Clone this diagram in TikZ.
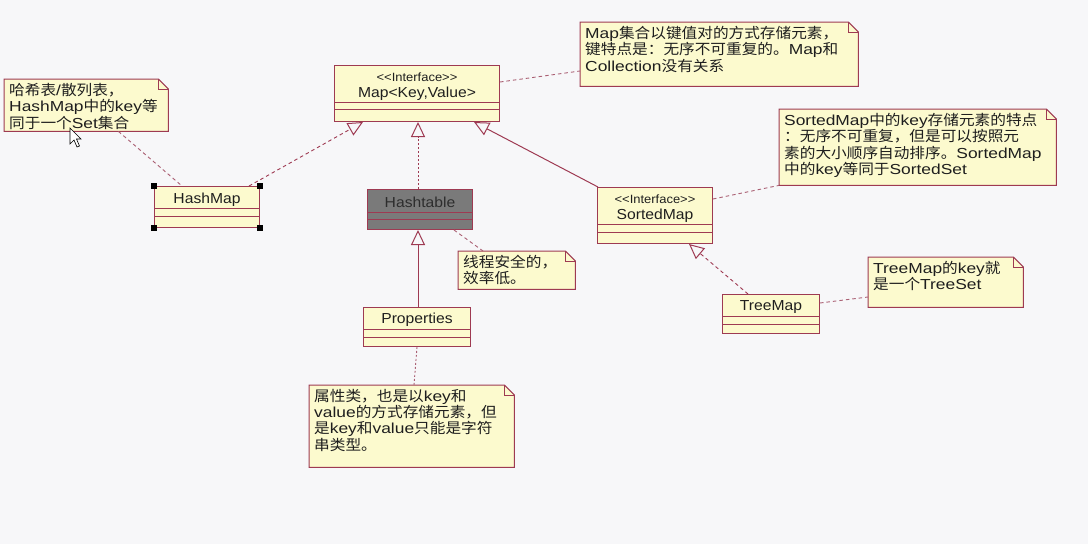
\documentclass[tikz,border=0pt]{standalone}
\usepackage{fontspec}
\setmainfont{Liberation Sans}[FakeStretch=1.2]
\newfontfamily\clsfont{Liberation Sans}[FakeStretch=1.08]
\newfontfamily\cjk{Noto Sans CJK SC}[FakeStretch=1.08]
\usetikzlibrary{arrows.meta,calc}
\XeTeXinterchartokenstate=1
\newXeTeXintercharclass\CJKcls
\newcount\cjkc
\cjkc="4E00 \loop\XeTeXcharclass\cjkc=\CJKcls \ifnum\cjkc<"9FFF \advance\cjkc by 1 \repeat
\cjkc="3000 \loop\XeTeXcharclass\cjkc=\CJKcls \ifnum\cjkc<"303F \advance\cjkc by 1 \repeat
\cjkc="FF00 \loop\XeTeXcharclass\cjkc=\CJKcls \ifnum\cjkc<"FFEF \advance\cjkc by 1 \repeat
\XeTeXinterchartoks 0 \CJKcls = {\begingroup\cjk}
\XeTeXinterchartoks 4095 \CJKcls = {\begingroup\cjk}
\XeTeXinterchartoks \CJKcls 0 = {\endgroup}
\XeTeXinterchartoks \CJKcls 4095 = {\endgroup}
\definecolor{umlred}{RGB}{158,58,82}
\definecolor{dashc}{RGB}{170,95,115}
\definecolor{umlfill}{RGB}{252,250,206}
\definecolor{bgc}{RGB}{247,247,249}
\definecolor{htfill}{RGB}{122,122,122}
\definecolor{txt}{RGB}{30,30,30}
\pgfdeclarelayer{back}
\pgfdeclarelayer{bg}
\pgfsetlayers{back,bg,main}
\tikzset{
  cls/.style={draw=umlred, fill=umlfill, line width=1pt, inner sep=0pt, anchor=north west},
  clsline/.style={draw=umlred, line width=1pt},
  clsname/.style={font=\clsfont\fontsize{14.5}{16}\selectfont, text=txt, inner sep=0pt},
  stereo/.style={font=\clsfont\fontsize{12}{13}\selectfont, text=txt, inner sep=0pt},
  note/.style={inner xsep=5pt, inner ysep=4pt, anchor=north west, font=\fontsize{14.5}{16.3}\selectfont, text=txt},
  notebd/.style={draw=umlred, fill=umlfill, line width=1pt},
  anchorline/.style={draw=dashc, line width=0.9pt, dash pattern=on 3.5pt off 3pt},
  tri/.tip={Triangle[open, length=15pt, width=14pt, line width=1pt, fill=bgc]},
  realize/.style={draw=umlred, line width=0.9pt, dash pattern=on 3.5pt off 3pt, -tri},
  general/.style={draw=umlred, line width=1pt, -tri},
}
\newcommand\notebox[6]{%
  \node[note] (#1) at (#2,#3) {\parbox[t][\dimexpr#5pt-8pt\relax][t]{\dimexpr#4pt-10pt\relax}{#6}};
  \begin{pgfonlayer}{bg}
    \filldraw[notebd] (#1.north west) -- ([xshift=-10pt]#1.north east) -- ([yshift=-10pt]#1.north east) -- (#1.south east) -- (#1.south west) -- cycle;
    \draw[notebd, fill=none] ([xshift=-10pt]#1.north east) |- ([yshift=-10pt]#1.north east);
  \end{pgfonlayer}}
\newcommand\compart[3]{% node, offset1, offset2
  \draw[clsline] ([yshift=-#2pt]#1.north west) -- ([yshift=-#2pt]#1.north east);
  \draw[clsline] ([yshift=-#3pt]#1.north west) -- ([yshift=-#3pt]#1.north east);}
\begin{document}
\begin{tikzpicture}[x=1pt,y=-1pt]
\begin{pgfonlayer}{back}
  \fill[bgc] (0,0) rectangle (1088,544);
\end{pgfonlayer}
\useasboundingbox (0,0) rectangle (1088,544);

% classes
\node[cls, minimum width=165pt, minimum height=56pt] (map) at (334,65) {};
\compart{map}{37}{44}
\node[stereo] (mapst) at ($(map.north)+(0,12.5)$) {<<Interface>>};
\node[clsname] (mapnm) at ($(map.north)+(0,29)$) {Map<Key,Value>};

\node[cls, minimum width=105pt, minimum height=41pt] (hm) at (154,186) {};
\compart{hm}{22}{30}
\node[clsname] (hmnm) at ($(hm.north)+(0,13.5)$) {HashMap};
\foreach \a in {north west, north east, south west, south east}
  \fill[black] (hm.\a) ++(-3,-3) rectangle ++(6,6);

\node[cls, fill=htfill, minimum width=105pt, minimum height=40pt] (ht) at (367,189) {};
\compart{ht}{23}{30}
\node[clsname, text={rgb,255:red,45;green,45;blue,45}] (htnm) at ($(ht.north)+(0,13.5)$) {Hashtable};

\node[cls, minimum width=115pt, minimum height=56pt] (sm) at (597,187) {};
\compart{sm}{37}{45}
\node[stereo] (smst) at ($(sm.north)+(0,12.5)$) {<<Interface>>};
\node[clsname] (smnm) at ($(sm.north)+(0,28.5)$) {SortedMap};

\node[cls, minimum width=97pt, minimum height=39pt] (tm) at (722,294) {};
\compart{tm}{22}{30}
\node[clsname] (tmnm) at ($(tm.north)+(0,13)$) {TreeMap};

\node[cls, minimum width=107pt, minimum height=39pt] (pr) at (363,307) {};
\compart{pr}{22}{30}
\node[clsname] (prnm) at ($(pr.north)+(0,13)$) {Properties};

% notes
\notebox{nhm}{4}{79}{164}{52}{哈希表/散列表，\\HashMap中的key等\\同于一个Set集合}
\notebox{nmap}{580}{22}{278}{64}{Map集合以键值对的方式存储元素，\\键特点是：无序不可重复的。Map和\\Collection没有关系}
\notebox{nsm}{779}{109}{277}{76}{SortedMap中的key存储元素的特点\\：无序不可重复，但是可以按照元\\素的大小顺序自动排序。SortedMap\\中的key等同于SortedSet}
\notebox{nht}{458}{251}{117}{38}{线程安全的，\\效率低。}
\notebox{ntm}{868}{257}{155}{50}{TreeMap的key就\\是一个TreeSet}
\notebox{npr}{309}{385}{205}{82}{属性类，也是以key和\\value的方式存储元素，但\\是key和value只能是字符\\串类型。}

% inheritance / realization
\draw[realize] ([xshift=-11pt]hm.north east) -- ([xshift=29pt]map.south west);
\draw[realize, dash pattern=on 2pt off 2pt] ([xshift=51pt]ht.north west) -- ([xshift=84pt]map.south west);
\draw[general] ([xshift=1pt]sm.north west) -- ([xshift=-26pt]map.south east);
\draw[general] ([xshift=55pt]pr.north west) -- ([xshift=51pt]ht.south west);
\draw[realize] ([xshift=26pt]tm.north west) -- ([xshift=-24pt]sm.south east);

% note anchors
\draw[anchorline] ([xshift=-50pt]nhm.south east) -- ([xshift=28pt]hm.north west);
\draw[anchorline] ([yshift=-17pt]map.north east) -- ([yshift=-49pt]nmap.north west);
\draw[anchorline] ([yshift=-12pt]sm.north east) -- (nsm.south west);
\draw[anchorline] ([xshift=-19pt]ht.south east) -- ([xshift=25pt]nht.north west);
\draw[anchorline] ([yshift=-9pt]tm.north east) -- ([yshift=-40pt]ntm.north west);
\draw[anchorline, dash pattern=on 2pt off 2pt] ([xshift=54pt]pr.south west) -- ([xshift=105pt]npr.north west);

% mouse cursor
\filldraw[fill=white, draw=black, line width=0.6pt] (70,128) -- (70,144) -- (74,140) -- (77,147) -- (79.5,146) -- (76.5,139) -- (81,139) -- cycle;
\end{tikzpicture}
\end{document}
